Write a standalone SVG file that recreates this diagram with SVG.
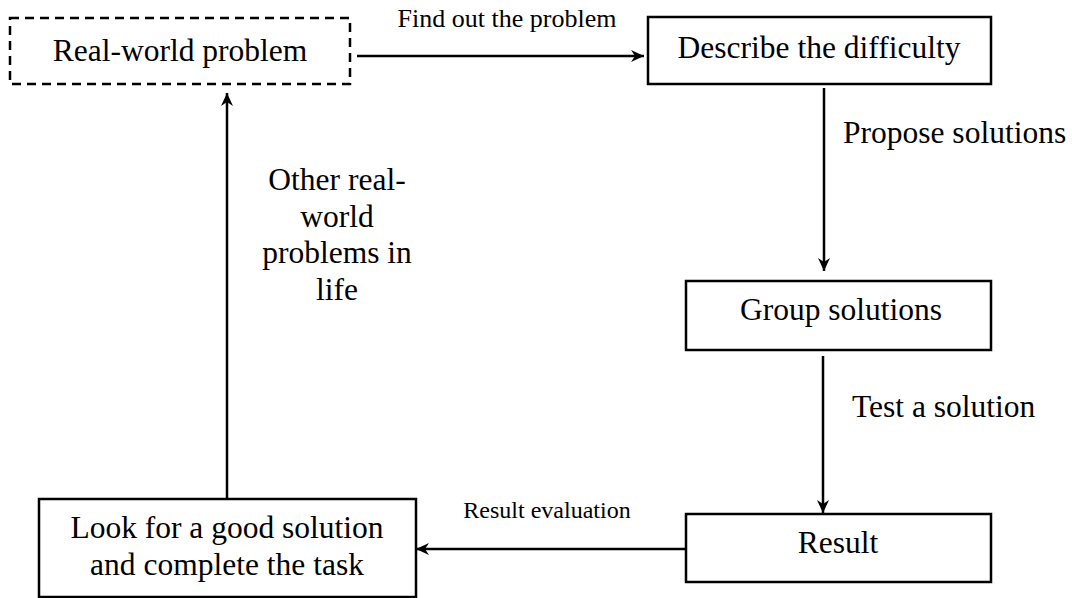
<svg xmlns="http://www.w3.org/2000/svg" width="1072" height="598" viewBox="0 0 1072 598">
<style>
.box{fill:#fff;stroke:#000;stroke-width:2.5}
.dash{stroke-dasharray:9 6}
.t{font-family:"Liberation Serif","Times New Roman",serif;font-size:31.5px;fill:#000;text-anchor:middle}
.s{font-family:"Liberation Serif","Times New Roman",serif;fill:#000;text-anchor:middle}
.c{fill:none;stroke:#000;stroke-width:2.5}
</style>
<defs>
<marker id="ah" markerUnits="userSpaceOnUse" markerWidth="16" markerHeight="14" refX="13" refY="6" orient="auto">
<path d="M0,0 L13,6 L0,12 L4,6 z" fill="#000"/>
</marker>
</defs>
<rect width="1072" height="598" fill="#fff"/>
<g id="connectors">
<line class="c" x1="357" y1="56" x2="644" y2="56" marker-end="url(#ah)"/>
<text class="s" x="507" y="27" font-size="26">Find out the problem</text>
<line class="c" x1="824" y1="88" x2="824" y2="271" marker-end="url(#ah)"/>
<text class="t" x="843" y="143" style="text-anchor:start">Propose solutions</text>
<line class="c" x1="823" y1="356" x2="823" y2="513" marker-end="url(#ah)"/>
<text class="t" x="852" y="417" style="text-anchor:start">Test a solution</text>
<line class="c" x1="686" y1="549" x2="416" y2="549" marker-end="url(#ah)"/>
<text class="s" x="547" y="518" font-size="24">Result evaluation</text>
<line class="c" x1="227" y1="499" x2="227" y2="93" marker-end="url(#ah)"/>
<text class="t" x="337" y="190">Other real-</text>
<text class="t" x="337" y="227">world</text>
<text class="t" x="337" y="263">problems in</text>
<text class="t" x="337" y="300">life</text>
</g>
<g id="realworld">
<rect class="box dash" x="10" y="18" width="340" height="66"/>
<text class="t" x="180" y="61">Real-world problem</text>
</g>
<g id="describe">
<rect class="box" x="648" y="17" width="343" height="67"/>
<text class="t" x="819" y="58">Describe the difficulty</text>
</g>
<g id="group">
<rect class="box" x="686" y="281" width="305" height="69"/>
<text class="t" x="841" y="320">Group solutions</text>
</g>
<g id="result">
<rect class="box" x="686" y="514" width="305" height="68"/>
<text class="t" x="838" y="553">Result</text>
</g>
<g id="look">
<rect class="box" x="39" y="499" width="377" height="98"/>
<text class="t" x="227" y="538">Look for a good solution</text>
<text class="t" x="227" y="575">and complete the task</text>
</g>
</svg>
